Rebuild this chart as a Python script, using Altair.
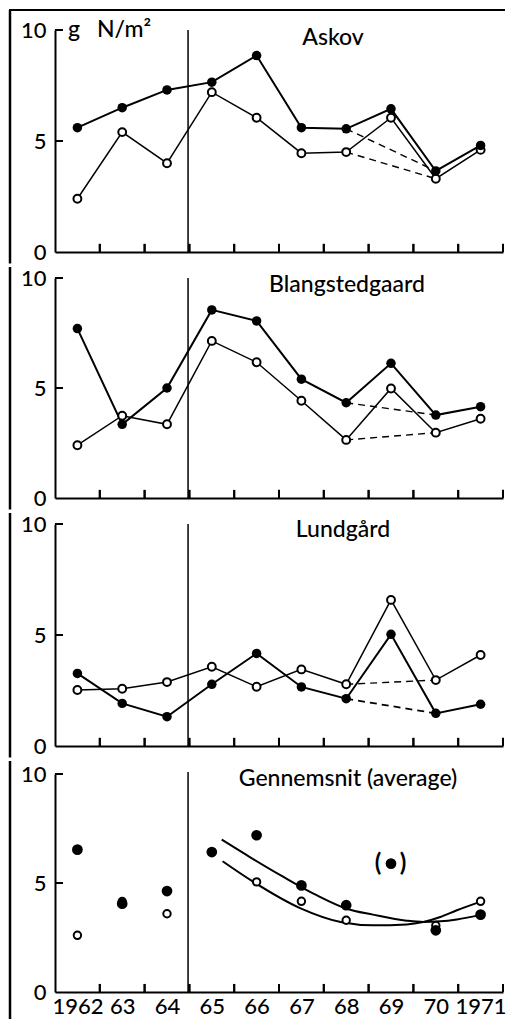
import json
import altair as alt
import pandas as pd

# ---------------- data ----------------
years = [1962, 1963, 1964, 1965, 1966, 1967, 1968, 1969, 1970, 1971]
year_labels = ["1962", "63", "64", "65", "66", "67", "68", "69", "70", "1971"]
y_ticks = [0, 5, 10]

titles = ["Askov", "Blangstedgaard", "Lundgård", "Gennemsnit (average)"]

askov_filled = [5.6, 6.5, 7.3, 7.65, 8.85, 5.6, 5.55, 6.45, 3.65, 4.8]
askov_open = [2.4, 5.4, 4.0, 7.2, 6.05, 4.45, 4.5, 6.05, 3.3, 4.6]
blang_filled = [7.7, 3.35, 5.0, 8.55, 8.05, 5.4, 4.33, 6.12, 3.77, 4.15]
blang_open = [2.4, 3.74, 3.35, 7.14, 6.17, 4.42, 2.64, 4.98, 2.97, 3.6]
lund_filled = [3.27, 1.92, 1.32, 2.78, 4.17, 2.66, 2.13, 5.03, 1.47, 1.88]
lund_open = [2.52, 2.58, 2.88, 3.57, 2.67, 3.45, 2.78, 6.58, 2.97, 4.1]
avg_filled = [6.53, 4.05, 4.63, 6.42, 7.19, 4.89, 3.98, 5.89, 2.83, 3.55]
avg_open = [2.60, 4.15, 3.59, None, 5.05, 4.16, 3.29, None, 3.05, 4.16]
bracketed_year = 1969  # the average point shown in parentheses

dashed_years = [1968, 1970]
period_break = 1964.47

fit_filled_x = [1965.22, 1965.85, 1966.60, 1967.34, 1968.01, 1968.60, 1969.35, 1969.72, 1970.10, 1970.47, 1971.02]
fit_filled_y = [6.99, 6.19, 5.28, 4.44, 3.82, 3.55, 3.27, 3.21, 3.24, 3.33, 3.55]
fit_open_x = [1965.24, 1965.93, 1966.97, 1967.90, 1968.60, 1969.35, 1969.72, 1970.10, 1970.47, 1971.02]
fit_open_y = [6.00, 5.05, 3.85, 3.20, 3.06, 3.10, 3.21, 3.44, 3.75, 4.16]

# ---------------- layout / style ----------------
FONT = "Lato"
W = 448
heights = [222, 220, 222, 218]
frame_top = [20, 11, 11, 13]
frame_bottom = [11.5, 11.5, 11.5, 27]
title_pos = [(278, 15), (292, 14), (288, 13), (293, 12)]
X_DOMAIN = [years[0] - 0.5, years[-1] + 0.5]
tick_x = [y + 0.5 for y in years]
VBAR = "M0,-1L0,1"
HBAR = "M-1,0L1,0"


def panel(idx, filled, opn, last=False):
    h = heights[idx]
    one = pd.DataFrame({"panel": [idx]})
    xs = alt.Scale(domain=X_DOMAIN, nice=False, zero=False)
    ys = alt.Scale(domain=[0, 10], nice=False, zero=False)
    if last:
        xaxis = alt.Axis(values=years, title=None, ticks=False, grid=False,
                         labelExpr=f"{json.dumps(year_labels)}[datum.value - {years[0]}]",
                         labelOverlap=False, labelFlush=False, labelPadding=4,
                         labelFontSize=22, labelFont=FONT, labelFontWeight=500, labelColor="black",
                         domainColor="black", domainWidth=2)
    else:
        xaxis = alt.Axis(values=years, title=None, ticks=False, labels=False, grid=False,
                         domainColor="black", domainWidth=2)
    yaxis = alt.Axis(values=y_ticks, title=None, ticks=False, grid=False,
                     labelFontSize=22, labelFont=FONT, labelFontWeight=500, labelColor="black",
                     labelPadding=9, labelFlush=False, labelOverlap=False,
                     domainColor="black", domainWidth=2)

    df = pd.DataFrame({"year": years, "filled": filled, "open": opn, "panel": idx})
    tdf = pd.DataFrame({"t": tick_x, "panel": idx})
    ydf = pd.DataFrame({"v": y_ticks[1:], "panel": idx})
    layers = []

    # axes carrier (invisible)
    layers.append(alt.Chart(df).mark_point(opacity=0).encode(
        x=alt.X("year:Q", scale=xs, axis=xaxis),
        y=alt.Y("filled:Q", scale=ys, axis=yaxis)))

    # period divider
    layers.append(alt.Chart(pd.DataFrame({"x": [period_break], "panel": idx})).mark_rule(
        color="black", strokeWidth=1.5).encode(
        x=alt.X("x:Q", scale=xs), y=alt.value(-2 if last else 0), y2=alt.value(h)))

    # inward ticks (x) and (y): rules plus bar-shaped symbols at the same place
    layers.append(alt.Chart(tdf).mark_rule(color="black", strokeWidth=2).encode(
        x=alt.X("t:Q", scale=xs), y=alt.datum(0), y2=alt.datum(0.37)))
    layers.append(alt.Chart(tdf).mark_point(shape=VBAR, size=64, stroke="black", strokeWidth=2,
                                            filled=False, opacity=1).encode(
        x=alt.X("t:Q", scale=xs), y=alt.value(h - 4)))
    layers.append(alt.Chart(ydf).mark_rule(color="black", strokeWidth=2).encode(
        y=alt.Y("v:Q", scale=ys), x=alt.value(0), x2=alt.value(8)))
    layers.append(alt.Chart(ydf).mark_point(shape=HBAR, size=64, stroke="black", strokeWidth=2,
                                            filled=False, opacity=1).encode(
        y=alt.Y("v:Q", scale=ys), x=alt.value(4)))

    # frame
    layers.append(alt.Chart(one).mark_rule(color="black", strokeWidth=2.5).encode(
        x=alt.value(-45), y=alt.value(-frame_top[idx]), y2=alt.value(h + frame_bottom[idx])))
    if idx == 0:
        layers.append(alt.Chart(one).mark_rule(color="black", strokeWidth=2).encode(
            x=alt.value(-46), x2=alt.value(450), y=alt.value(-20)))
        layers.append(alt.Chart(one).mark_text(align="left", baseline="alphabetic", font=FONT,
                                              fontSize=23, fontWeight=500, color="black").encode(
            x=alt.value(13), y=alt.value(7), text=alt.value("g")))
        layers.append(alt.Chart(one).mark_text(align="left", baseline="alphabetic", font=FONT,
                                              fontSize=23, fontWeight=500, color="black").encode(
            x=alt.value(42), y=alt.value(7), text=alt.value("N/m²")))

    # title
    tx, ty = title_pos[idx]
    layers.append(alt.Chart(one).mark_text(align="center", baseline="alphabetic", font=FONT,
                                          fontSize=23, fontWeight=500, color="black").encode(
        x=alt.value(tx), y=alt.value(ty), text=alt.value(titles[idx])))

    if not last:
        # connecting lines
        layers.append(alt.Chart(df).mark_line(color="black", strokeWidth=2).encode(
            x=alt.X("year:Q", scale=xs), y=alt.Y("filled:Q", scale=ys)))
        layers.append(alt.Chart(df).mark_line(color="black", strokeWidth=1.5).encode(
            x=alt.X("year:Q", scale=xs), y=alt.Y("open:Q", scale=ys)))
        dd = df[df["year"].isin(dashed_years)]
        layers.append(alt.Chart(dd).mark_line(color="black", strokeWidth=1.8 if idx == 2 else 1.4,
                                              strokeDash=[7, 5]).encode(
            x=alt.X("year:Q", scale=xs), y=alt.Y("filled:Q", scale=ys)))
        layers.append(alt.Chart(dd).mark_line(color="black", strokeWidth=1.4, strokeDash=[7, 5]).encode(
            x=alt.X("year:Q", scale=xs), y=alt.Y("open:Q", scale=ys)))
        osize, fsize = 62, 90
    else:
        ff = pd.DataFrame({"x": fit_filled_x, "y": fit_filled_y})
        fo = pd.DataFrame({"x": fit_open_x, "y": fit_open_y})
        layers.append(alt.Chart(ff).mark_line(color="black", strokeWidth=2, interpolate="monotone").encode(
            x=alt.X("x:Q", scale=xs), y=alt.Y("y:Q", scale=ys)))
        layers.append(alt.Chart(fo).mark_line(color="black", strokeWidth=2, interpolate="monotone").encode(
            x=alt.X("x:Q", scale=xs), y=alt.Y("y:Q", scale=ys)))
        br = df[df["year"] == bracketed_year]
        for ch, dx in (("(", -13), (")", 12)):
            layers.append(alt.Chart(br).mark_text(text=ch, dx=dx, font=FONT, fontSize=24, fontWeight="bold",
                                                  baseline="middle", align="center", color="black").encode(
                x=alt.X("year:Q", scale=xs), y=alt.Y("filled:Q", scale=ys)))
        osize, fsize = 55, 115

    odf = df.dropna(subset=["open"])
    layers.append(alt.Chart(odf).mark_circle(size=osize, fill="white", stroke="black", strokeWidth=2,
                                             opacity=1).encode(
        x=alt.X("year:Q", scale=xs), y=alt.Y("open:Q", scale=ys)))
    layers.append(alt.Chart(df).mark_circle(size=fsize, color="black", opacity=1).encode(
        x=alt.X("year:Q", scale=xs), y=alt.Y("filled:Q", scale=ys)))

    return alt.layer(*layers).properties(width=W, height=h)


chart = alt.vconcat(
    panel(0, askov_filled, askov_open),
    panel(1, blang_filled, blang_open),
    panel(2, lund_filled, lund_open),
    panel(3, avg_filled, avg_open, last=True),
    spacing=0,
).properties(padding=0, background="white").configure_view(stroke=None)

chart.save("out.html", embed_options={"renderer": "svg", "actions": False})
